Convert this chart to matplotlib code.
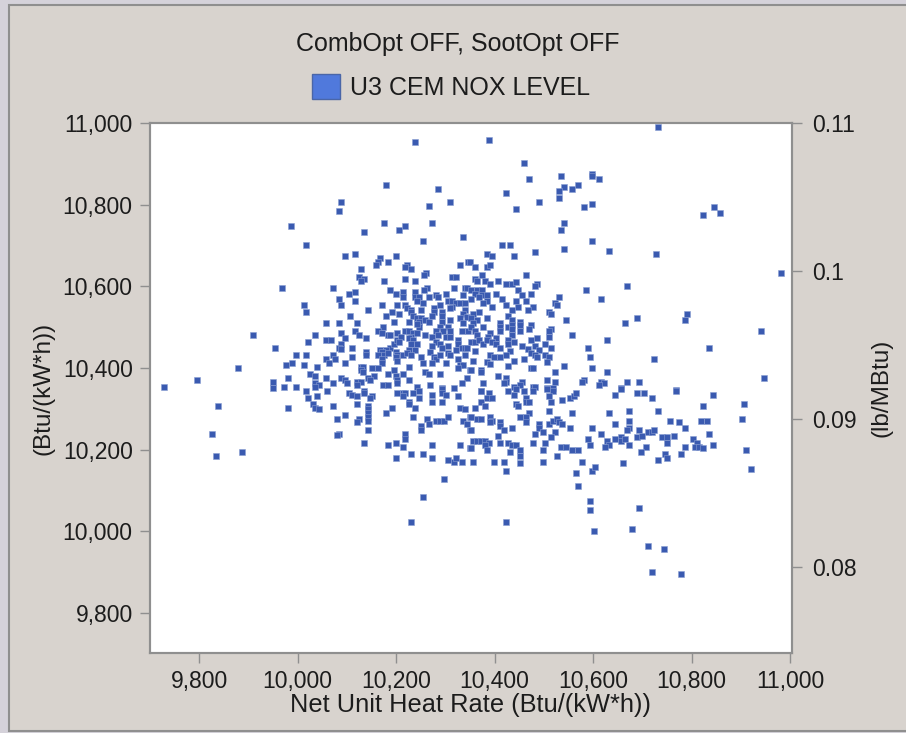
import matplotlib
matplotlib.use('Agg')
import matplotlib.pyplot as plt
from matplotlib.patches import Patch, Rectangle
from matplotlib.ticker import FuncFormatter

plt.rcParams['font.family'] = ['Liberation Sans', 'DejaVu Sans']

# Net unit heat rate, Btu/(kW*h)
heat_rate = [
    10238, 10179, 10286, 10309, 10266, 10088, 10084, 9986, 10175, 10274, 10218, 10207,
    10136, 10337, 10254, 10017, 10096, 10116, 10199, 10167, 10163, 10183, 10159, 10329,
    10347, 10222, 10218, 10230, 10128, 10260, 10257, 10124, 10136, 10128, 10313, 10321,
    10175, 10218, 10238, 9969, 10072, 10262, 10257, 10317, 10341, 10345, 10116, 10104,
    10187, 10199, 10214, 10238, 10214, 10238, 10246, 10266, 10282, 10286, 10301, 10337,
    10084, 10088, 10116, 10013, 10017, 10143, 10171, 10203, 10218, 10222, 10230, 10242,
    10254, 10277, 10289, 10305, 10313, 10321, 10329, 10341, 10313, 10309, 10250, 10191,
    10179, 10207, 10230, 10234, 10107, 10277, 10293, 10341, 10337, 10329, 10345, 10273,
    10242, 10250, 10258, 10266, 10246, 10226, 10195, 10057, 10084, 10120, 10294, 10309,
    10337, 10293, 10246, 10242, 10289, 10305, 10309, 10296, 10281, 10286, 10273, 10174,
    10163, 10171, 10183, 10187, 10203, 10218, 10226, 10234, 10242, 10230, 10258, 10333,
    10347, 10301, 10309, 9910, 10036, 10088, 10116, 10124, 10139, 10096, 10057, 10068,
    10021, 10088, 10084, 10088, 10111, 9954, 10139, 10139, 10167, 10187, 10179, 10171,
    10163, 10175, 10171, 10171, 10183, 10195, 10203, 10210, 10207, 10226, 10234, 10230,
    10242, 10238, 10226, 10199, 10203, 10214, 10222, 10199, 10203, 10230, 10250, 10254,
    10281, 10289, 10293, 10305, 10274, 10269, 10277, 10281, 10273, 10289, 10305, 10301,
    10325, 10325, 10321, 10333, 10341, 10345, 10341, 10309, 10325, 10329, 10337, 10325,
    10017, 9997, 9989, 9977, 10013, 10040, 10057, 10072, 10076, 10064, 10111, 10096,
    10128, 10132, 10128, 10132, 10151, 10163, 10155, 10143, 10147, 10183, 10195, 10199,
    10203, 10214, 10226, 10226, 10258, 10266, 10289, 10350, 10345, 10333, 9879, 9795,
    9728, 9950, 9981, 10025, 10036, 10057, 10088, 10096, 10100, 10120, 10128, 10036,
    10044, 10072, 10120, 10174, 10183, 10203, 10242, 10269, 9950, 9973, 9997, 10036,
    10293, 10317,
    10732, 10388, 10459, 10471, 10534, 10597, 10597, 10613, 10570, 10558, 10542, 10530,
    10424, 10490, 10530, 10597, 10582, 10443, 10846, 10858, 10823, 10542, 10534, 10597,
    10416, 10431, 10542, 10633, 10483, 10728, 10384, 10395, 10439, 10350, 10360, 10384,
    10391, 10463, 10981, 10374, 10360, 10364, 10380, 10391, 10408, 10423, 10435, 10443,
    10487, 10483, 10669, 10586, 10447, 10403, 10475, 10455, 10353, 10364, 10374, 10360,
    10374, 10384, 10353, 10368, 10416, 10423, 10443, 10463, 10530, 10522, 10526, 10617,
    10384, 10376, 10395, 10447, 10479, 10467, 10435, 10427, 10368, 10357, 10353, 10364,
    10384, 10510, 10514, 10546, 10791, 10787, 10689, 10665, 10412, 10435, 10452, 10475,
    10471, 10514, 10510, 10510, 10452, 10452, 10412, 10412, 10427, 10435, 10435, 10357,
    10353, 10360, 10376, 10364, 10391, 10387, 10435, 10558, 10942, 10629, 10353, 10360,
    10368, 10376, 10384, 10403, 10395, 10403, 10412, 10427, 10427, 10439, 10455, 10475,
    10487, 10502, 10483, 10467, 10475, 10491, 10515, 10590, 10835, 10360, 10431, 10423,
    10391, 10399, 10412, 10483, 10487, 10502, 10510, 10459, 10594, 10724, 10357, 10384,
    10391, 10439, 10506, 10427, 10542, 10353, 10372, 10372, 10475, 10479, 10597, 10522,
    10629, 10408, 10423, 10506, 10522, 10582, 10577, 10617, 10622, 10613, 10669, 10693,
    10948, 10376, 10423, 10419, 10455, 10451, 10439, 10479, 10483, 10506, 10518, 10372,
    10657, 10768,
    9839, 9981, 10017, 10021, 10040, 10060, 10032, 10036, 10044, 10072, 10104, 10111,
    10120, 10136, 10136, 10151, 10147, 10120, 10143, 10143, 10143, 10143, 10143, 10124,
    10120, 10096, 10080, 10143, 10084, 10080, 9827, 9835, 9887, 10136, 10179, 10191,
    10203, 10214, 10218, 10214, 10234, 10246, 10246, 10226, 10226, 10238, 10274, 10274,
    10294, 10294, 10301, 10294, 10325, 10329, 10341, 10234, 10262, 10266, 10281, 10289,
    10298, 10305, 10337, 10345, 10350, 10250, 10250, 10218, 10218, 10183, 10199, 10214,
    10274, 10329, 10350, 10199, 10230, 10254, 10274, 10305, 10317, 10321, 10333, 10298,
    10254, 10230, 10350,
    10372, 10388, 10384, 10395, 10372, 10380, 10360, 10427, 10443, 10439, 10459, 10479,
    10506, 10518, 10510, 10515, 10463, 10463, 10471, 10443, 10447, 10538, 10554, 10562,
    10566, 10645, 10657, 10689, 10704, 10720, 10768, 10843, 10823, 10906, 10510, 10471,
    10463, 10452, 10463, 10558, 10633, 10673, 10732, 10353, 10364, 10372, 10391, 10395,
    10391, 10412, 10412, 10420, 10435, 10353, 10408, 10510, 10518, 10526, 10530, 10538,
    10490, 10490, 10499, 10483, 10522, 10515, 10554, 10597, 10617, 10645, 10673, 10673,
    10669, 10693, 10689, 10700, 10712, 10720, 10724, 10756, 10775, 10787, 10819, 10831,
    10902, 10835, 10357, 10364, 10372, 10380, 10388, 10380, 10412, 10427, 10435, 10443,
    10479, 10502, 10590, 10594, 10629, 10633, 10625, 10645, 10657, 10657, 10665, 10673,
    10708, 10740, 10751, 10751, 10764, 10803, 10811, 10807, 10815, 10823, 10787, 10843,
    10353, 10384, 10431, 10452, 10452, 10499, 10534, 10546, 10558, 10570, 10526, 10697,
    10747, 10751, 10779, 10732, 10910, 10357, 10399, 10420, 10452, 10499, 10578, 10661,
    10423, 10566, 10598, 10605, 10921, 10570, 10594, 10594, 10693, 10424, 10602, 10680,
    10712, 10744, 10720, 10779,
]

# U3 CEM NOX level, in units of 0.00001 lb/MBtu
nox_level = [
    10869, 10581, 10554, 10466, 10441, 10466, 10403, 10302, 10326, 10326, 10302, 10277,
    10263, 10227, 10200, 10175, 10101, 10112, 10101, 10088, 10063, 10063, 10038, 10038,
    10063, 10038, 10025, 10011, 10011, 9986, 9975, 9962, 9948, 9935, 9962, 9962,
    9935, 9948, 9935, 9885, 9885, 9885, 9871, 9885, 9885, 9885, 9860, 9847,
    9871, 9847, 9860, 9860, 9822, 9822, 9822, 9822, 9835, 9822, 9847, 9835,
    9811, 9772, 9797, 9772, 9721, 9734, 9772, 9772, 9772, 9748, 9734, 9797,
    9784, 9748, 9772, 9797, 9797, 9784, 9784, 9784, 9759, 9748, 9734, 9721,
    9696, 9709, 9721, 9696, 9696, 9721, 9721, 9734, 9709, 9682, 9691, 9696,
    9682, 9682, 9669, 9658, 9658, 9658, 9658, 9646, 9646, 9646, 9696, 9669,
    9646, 9658, 9619, 9644, 9619, 9619, 9594, 9594, 9594, 9567, 9556, 9619,
    9594, 9579, 9567, 9567, 9579, 9594, 9594, 9579, 9579, 9556, 9567, 9594,
    9594, 9556, 9556, 9570, 9570, 9583, 9594, 9567, 9545, 9545, 9531, 9531,
    9520, 9507, 9480, 9471, 9480, 9482, 9455, 9430, 9468, 9480, 9468, 9455,
    9430, 9430, 9405, 9378, 9444, 9507, 9531, 9556, 9520, 9545, 9531, 9507,
    9507, 9468, 9468, 9455, 9430, 9430, 9444, 9417, 9392, 9430, 9417, 9378,
    9520, 9507, 9480, 9493, 9493, 9455, 9417, 9405, 9378, 9430, 9444, 9378,
    9531, 9507, 9468, 9480, 9480, 9480, 9430, 9430, 9405, 9367, 9367, 9342,
    9430, 9430, 9378, 9367, 9367, 9354, 9405, 9430, 9405, 9378, 9417, 9378,
    9354, 9354, 9329, 9315, 9342, 9342, 9290, 9277, 9266, 9304, 9329, 9290,
    9266, 9304, 9354, 9266, 9315, 9304, 9304, 9329, 9277, 9241, 9342, 9266,
    9216, 9252, 9279, 9304, 9290, 9279, 9279, 9266, 9241, 9252, 9252, 9241,
    9227, 9241, 9227, 9227, 9227, 9241, 9216, 9227, 9207, 9216, 9216, 9214,
    9207, 9207,
    10970, 10883, 10732, 10619, 10644, 10657, 10644, 10619, 10581, 10554, 10567, 10543,
    10529, 10466, 10491, 10452, 10430, 10416, 10430, 10392, 10378, 10326, 10277, 10200,
    10175, 10175, 10151, 10137, 10126, 10112, 10112, 10101, 10101, 10063, 10025, 10025,
    10038, 9975, 9986, 9975, 9948, 9935, 9935, 9912, 9935, 9912, 9912, 9923,
    9912, 9899, 9899, 9871, 9871, 9847, 9847, 9835, 9871, 9871, 9871, 9847,
    9835, 9835, 9811, 9822, 9811, 9772, 9797, 9797, 9822, 9784, 9772, 9811,
    9797, 9784, 9759, 9759, 9759, 9734, 9734, 9696, 9721, 9709, 9682, 9669,
    9682, 9721, 9709, 9671, 9709, 9671, 9685, 9646, 9646, 9669, 9658, 9633,
    9608, 9608, 9594, 9556, 9633, 9597, 9619, 9597, 9619, 9633, 9608, 9646,
    9619, 9597, 9619, 9567, 9583, 9556, 9567, 9570, 9597, 9534, 9520, 9520,
    9534, 9507, 9534, 9545, 9520, 9507, 9482, 9534, 9507, 9520, 9495, 9531,
    9545, 9507, 9495, 9471, 9444, 9468, 9482, 9482, 9482, 9457, 9457, 9432,
    9432, 9421, 9421, 9432, 9419, 9432, 9419, 9408, 9419, 9408, 9394, 9383,
    9369, 9394, 9383, 9356, 9356, 9331, 9331, 9318, 9342, 9342, 9342, 9318,
    9318, 9293, 9279, 9266, 9252, 9266, 9252, 9252, 9241, 9227, 9252, 9252,
    9279, 9241, 9252, 9241, 9252, 9227, 9214, 9214, 9214, 9207, 9207, 9191,
    9207, 9196,
    9090, 9076, 9191, 9139, 9153, 9191, 9101, 9076, 9065, 9090, 9177, 9164,
    9153, 9191, 9177, 9153, 9139, 9101, 9090, 9065, 9038, 9013, 8988, 9002,
    8977, 9027, 9002, 8925, 8900, 8889, 8900, 8750, 8774, 8837, 9038, 9076,
    9177, 9177, 9177, 9153, 9177, 9191, 9139, 9114, 9101, 9076, 9164, 9114,
    9202, 9177, 9164, 9114, 9153, 9076, 9065, 9013, 9002, 8963, 8988, 8988,
    8988, 9013, 8988, 8963, 9013, 8952, 8925, 8900, 8862, 8824, 8837, 8813,
    8824, 8824, 8801, 8736, 8761, 8761, 8736, 8723, 8711, 8736, 8711, 8596,
    8470, 8306, 8925,
    9191, 9177, 9139, 9139, 9114, 9090, 9076, 9191, 9202, 9164, 9191, 9191,
    9202, 9191, 9153, 9114, 9139, 9114, 9114, 9101, 9090, 9126, 9139, 9153,
    9177, 9164, 9202, 9177, 9177, 9139, 9191, 9164, 9090, 9101, 9051, 9038,
    9013, 9013, 8977, 9038, 9038, 9051, 9051, 9013, 9002, 9002, 9013, 8988,
    8977, 8977, 8952, 8925, 8939, 8925, 8887, 8963, 8988, 9002, 8977, 8963,
    8963, 8939, 8914, 8900, 8914, 8876, 8939, 8939, 8900, 8963, 8988, 8939,
    8925, 8925, 8876, 8887, 8914, 8914, 8925, 8988, 8977, 8939, 8988, 8988,
    9002, 8900, 8851, 8851, 8851, 8851, 8837, 8824, 8837, 8837, 8824, 8824,
    8837, 8837, 8862, 8824, 8851, 8824, 8813, 8862, 8876, 8851, 8862, 8824,
    8813, 8876, 8876, 8837, 8887, 8862, 8837, 8813, 8813, 8801, 8813, 8824,
    8801, 8788, 8774, 8788, 8750, 8788, 8813, 8813, 8788, 8788, 8750, 8774,
    8761, 8736, 8761, 8723, 8788, 8711, 8711, 8711, 8700, 8711, 8711, 8700,
    8648, 8635, 8648, 8673, 8659, 8547, 8446, 8382, 8396, 8306, 8243, 8256,
    8144, 8119, 7966, 7952,
]

x_ticks = [9800, 10000, 10200, 10400, 10600, 10800, 11000]
left_ticks = [9800, 10000, 10200, 10400, 10600, 10800, 11000]
right_ticks = [0.08, 0.09, 0.1, 0.11]

panel = '#d8d3ce'
edge = '#8f8f8f'
txt = '#1c1c1c'

fig = plt.figure(figsize=(9.06, 7.33), dpi=100, facecolor='#d5d2da')
fig.patches.append(Rectangle((9 / 906, 2 / 733), 1.0, 726 / 733, transform=fig.transFigure,
                             facecolor=panel, edgecolor=edge, linewidth=1.5, figure=fig, zorder=-1))

ax = fig.add_axes([150 / 906, 80 / 733, 642 / 906, 530 / 733])
ax.set_xlim(9700.5, 11004)
ax.set_ylim(9702, 11000)
ax.set_xticks(x_ticks)
ax.set_yticks(left_ticks)
fmt = FuncFormatter(lambda v, p: f'{int(v):,}')
ax.xaxis.set_major_formatter(fmt)
ax.yaxis.set_major_formatter(fmt)
ax.tick_params(length=7.5, width=1, color=edge, labelsize=16.5, labelcolor=txt, pad=5)
ax.set_xlabel('Net Unit Heat Rate (Btu/(kW*h))', fontsize=18.3, color=txt, labelpad=0)
ax.set_ylabel('(Btu/(kW*h))', fontsize=17.5, color=txt, labelpad=6, y=0.5)

ax2 = ax.twinx()
ax2.set_ylim(0.07419, 0.11)
ax2.set_yticks(right_ticks)
ax2.set_yticklabels(['0.08', '0.09', '0.1', '0.11'])
ax2.tick_params(length=7.5, width=1, color=edge, labelsize=16.5, labelcolor=txt, pad=7)
ax2.set_ylabel('(lb/MBtu)', fontsize=17.5, color=txt, labelpad=10)
ax2.scatter(heat_rate, [v / 1e5 for v in nox_level], marker='s', s=15, color='#3a5ab0',
            edgecolors='#8a9ed2', linewidths=0.4, clip_on=False)

for a in (ax, ax2):
    for s in a.spines.values():
        s.set_color(edge)
        s.set_linewidth(1.5)

fig.text(458 / 906, 1 - 44 / 733, 'CombOpt OFF, SootOpt OFF', ha='center', va='center',
         fontsize=18, color=txt)
fig.legend(handles=[Patch(facecolor='#5079dc', edgecolor='#4a66a8', label='U3 CEM NOX LEVEL')],
           loc='center', bbox_to_anchor=(451 / 906, 1 - 87 / 733), frameon=False, fontsize=18,
           handlelength=1.12, handleheight=1.12, handletextpad=0.4, labelcolor=txt)

fig.savefig('out.png', dpi=100, facecolor=fig.get_facecolor())
